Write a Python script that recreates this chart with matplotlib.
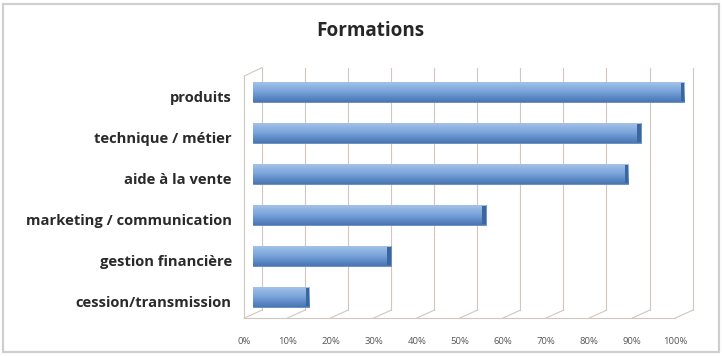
import numpy as np
import matplotlib
matplotlib.use("Agg")
import matplotlib.pyplot as plt
from matplotlib.patches import Rectangle
from matplotlib.colors import LinearSegmentedColormap

categories = ["produits", "technique / métier", "aide à la vente",
              "marketing / communication", "gestion financière",
              "cession/transmission"]
values = [100, 90, 87, 54, 32, 13]
tick_values = [0, 10, 20, 30, 40, 50, 60, 70, 80, 90, 100]
tick_labels = [f"{t}%" for t in tick_values]
title = "Formations"

W, H = 724, 356
fig = plt.figure(figsize=(W / 100, H / 100), dpi=100)
fig.patch.set_facecolor("white")

# outer chart frame
fig.add_artist(Rectangle((3 / W, 4 / H), 716 / W, 348 / H, transform=fig.transFigure,
                         fill=False, edgecolor="#cfcfcf", linewidth=1.6))

left, right, top, bottom = 236, 700, 60, 325
ax = fig.add_axes([left / W, 1 - bottom / H, (right - left) / W, (bottom - top) / H])
ax.set_xlim(-3.94, 103.7)
ax.set_ylim(5.68, -0.78)
ax.axis("off")

depth = 2.0          # half depth offset of the pseudo-3D box, in % units
floor_front, floor_back = 5.51, 5.32
wall_top = -0.59
grid_col = "#d2c6bf"

# back wall gridlines
for t in tick_values:
    ax.plot([t + depth, t + depth], [floor_back, wall_top], color=grid_col, lw=0.8, zorder=1)
    ax.plot([t - depth, t + depth], [floor_front, floor_back], color=grid_col, lw=0.8, zorder=1)
# floor front edge and left wall
ax.plot([-depth, 100 - depth], [floor_front, floor_front], color=grid_col, lw=0.8, zorder=1)
ax.plot([-depth, -depth], [floor_front, wall_top + 0.2], color=grid_col, lw=0.8, zorder=1)
ax.plot([-depth, depth], [wall_top + 0.2, wall_top], color=grid_col, lw=0.8, zorder=1)

# tick labels along the floor front edge
for t, lab in zip(tick_values, tick_labels):
    ax.text(t - depth, 6.08, lab, ha="center", va="center", fontsize=6.8,
            color="#555555", family="Open Sans")

# bars with vertical shading and a darker end cap
cmap = LinearSegmentedColormap.from_list("bar", ["#a9c5ea", "#8fb4e2", "#7aa4da", "#5f8cc8", "#4a76b2"])
grad = np.linspace(0, 1, 64).reshape(-1, 1)
bh = 0.49
y = np.arange(len(categories))
bars = ax.barh(y, values, height=bh, color="#7fa6da", edgecolor="#5f86bd", linewidth=0.6, zorder=3)
for b, v, yi in zip(bars, values, y):
    im = ax.imshow(grad, cmap=cmap, aspect="auto", interpolation="bilinear",
                   extent=[0, v, yi + bh / 2, yi - bh / 2], zorder=4)
    im.set_clip_path(b)
    ax.barh(yi, 0.8, left=v - 0.8, height=bh * 0.9, color="#3d669f", linewidth=0, zorder=5)
ax.set_xlim(-3.94, 103.7)
ax.set_ylim(5.68, -0.78)

# category labels sit on the front edge of each bar slot
for yi, c in zip(y, categories):
    ax.text(-4.9, yi + 0.14, c, ha="right", va="center", fontsize=10.6, fontweight="bold",
            color="#2a2a2a", family="Open Sans", clip_on=False)

fig.text(370 / W, 1 - 31 / H, title, ha="center", va="center", fontsize=13.6,
         fontweight="bold", color="#262626", family="Open Sans")

fig.savefig("out.png", dpi=100)
